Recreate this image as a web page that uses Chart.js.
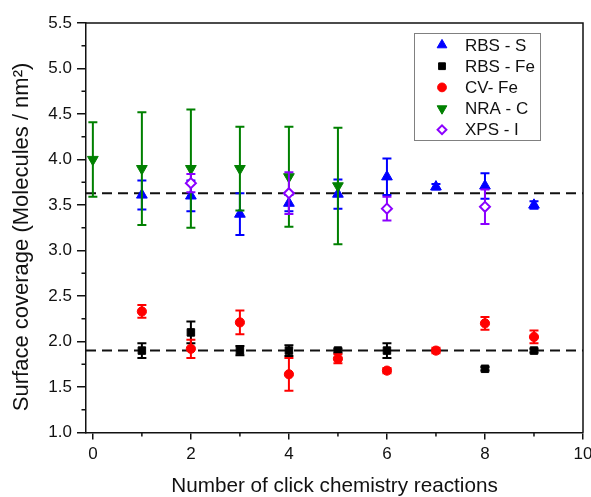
<!DOCTYPE html>
<html>
<head>
<meta charset="utf-8">
<script src="https://cdn.jsdelivr.net/npm/chart.js@4.4.0/dist/chart.umd.min.js"></script>
<style>
  html, body { margin: 0; padding: 0; background: #fff; }
  #wrap { width: 591px; height: 497px; }
</style>
</head>
<body>
<div id="wrap"><canvas id="coverageChart"></canvas></div>
<script>
// surface coverage after repeated click reactions, one series per technique
var rbsS_x = [1, 2, 3, 4, 5, 6, 7, 8, 9];
var rbsS_y = [3.61, 3.60, 3.40, 3.52, 3.62, 3.81, 3.70, 3.71, 3.50];
var rbsS_err = [0.16, 0.17, 0.23, 0.09, 0.16, 0.20, 0.03, 0.14, 0.04];

var rbsFe_x = [1, 2, 3, 4, 5, 6, 8, 9];
var rbsFe_y = [1.90, 2.10, 1.90, 1.90, 1.90, 1.90, 1.70, 1.90];
var rbsFe_err = [0.08, 0.12, 0.05, 0.06, 0.02, 0.08, 0.02, 0.02];

var cvFe_x = [1, 2, 3, 4, 5, 6, 7, 8, 9];
var cvFe_y = [2.33, 1.92, 2.21, 1.64, 1.81, 1.68, 1.90, 2.20, 2.05];
var cvFe_err = [0.07, 0.10, 0.13, 0.18, 0.05, 0.03, 0.03, 0.07, 0.07];

var nraC_x = [0, 1, 2, 3, 4, 5];
var nraC_y = [4.00, 3.90, 3.90, 3.90, 3.81, 3.71];
var nraC_err = [0.41, 0.62, 0.65, 0.46, 0.55, 0.64];

var xpsI_x = [2, 4, 6, 8];
var xpsI_y = [3.74, 3.63, 3.46, 3.48];
var xpsI_err = [0.10, 0.23, 0.13, 0.19];

// mean levels (dashed)
var meanS = 3.63;
var meanFe = 1.90;

var xMin = -0.14, xMax = 10;
var yMin = 1.0, yMax = 5.5;
var xTicks = [0, 2, 4, 6, 8, 10];
var yTicks = [1.0, 1.5, 2.0, 2.5, 3.0, 3.5, 4.0, 4.5, 5.0, 5.5];

var AXIS = '#111';

function pts(xs, ys) {
    return xs.map(function(x, i) { return {x: x, y: ys[i]}; });
}

function series(label, xs, ys, err, color, style, opts) {
    var ds = {
        label: label,
        data: pts(xs, ys),
        err: err,
        pointStyle: style,
        pointRadius: 5,
        pointBackgroundColor: color,
        pointBorderColor: color,
        pointBorderWidth: 1,
        borderColor: color,
        backgroundColor: color,
        showLine: false,
        inLegend: true
    };
    for (var k in opts) ds[k] = opts[k];
    return ds;
}

function meanLine(y) {
    return {
        type: 'line',
        data: [{x: xMin, y: y}, {x: xMax, y: y}],
        showLine: true,
        borderColor: '#111',
        borderWidth: 2,
        borderDash: [10, 6],
        pointRadius: 0,
        fill: false,
        order: 10
    };
}

var datasets = [
    series('RBS - S', rbsS_x, rbsS_y, rbsS_err, '#0000ff', 'triangle', {pointRadius: 6.2, order: 5}),
    series('RBS - Fe', rbsFe_x, rbsFe_y, rbsFe_err, '#000000', 'rect', {pointRadius: 5.3, order: 4}),
    series('CV- Fe', cvFe_x, cvFe_y, cvFe_err, '#ff0000', 'circle', {pointRadius: 4.6, order: 3}),
    series('NRA - C', nraC_x, nraC_y, nraC_err, '#008000', 'triangle', {pointRadius: 6.2, pointRotation: 180, order: 2}),
    series('XPS - I', xpsI_x, xpsI_y, xpsI_err, '#8b00ff', 'rectRot',
        {pointRadius: 5, pointBackgroundColor: '#ffffff', pointBorderWidth: 2, order: 1}),
    meanLine(meanS),
    meanLine(meanFe)
];

// vertical error bars with caps, drawn just under each series' markers
var errorBars = {
    id: 'errorBars',
    beforeDatasetDraw: function(chart, args) {
        var ds = chart.data.datasets[args.index];
        if (!ds.err) return;
        var xs = chart.scales.x, ys = chart.scales.y, ctx = chart.ctx;
        ctx.save();
        ctx.strokeStyle = ds.borderColor;
        ctx.lineWidth = 2;
        ds.data.forEach(function(p, i) {
            var px = xs.getPixelForValue(p.x);
            var top = ys.getPixelForValue(p.y + ds.err[i]);
            var bot = ys.getPixelForValue(p.y - ds.err[i]);
            ctx.beginPath();
            ctx.moveTo(px, top); ctx.lineTo(px, bot);
            ctx.moveTo(px - 4.5, top); ctx.lineTo(px + 4.5, top);
            ctx.moveTo(px - 4.5, bot); ctx.lineTo(px + 4.5, bot);
            ctx.stroke();
        });
        ctx.restore();
    }
};

// closing frame on top/right plus the small minor ticks
var frame = {
    id: 'frame',
    afterDraw: function(chart) {
        var a = chart.chartArea, ctx = chart.ctx;
        var xs = chart.scales.x, ys = chart.scales.y;
        ctx.save();
        ctx.strokeStyle = AXIS;
        ctx.lineWidth = 1.5;
        ctx.beginPath();
        ctx.moveTo(a.left, a.top); ctx.lineTo(a.right, a.top); ctx.lineTo(a.right, a.bottom);
        ctx.stroke();
        ctx.beginPath();
        for (var i = 0; i < yTicks.length - 1; i++) {
            var py = ys.getPixelForValue((yTicks[i] + yTicks[i + 1]) / 2);
            ctx.moveTo(a.left - 4.5, py); ctx.lineTo(a.left, py);
        }
        for (var j = 0; j < xTicks.length - 1; j++) {
            var px = xs.getPixelForValue((xTicks[j] + xTicks[j + 1]) / 2);
            ctx.moveTo(px, a.bottom); ctx.lineTo(px, a.bottom + 4);
        }
        ctx.stroke();
        ctx.restore();
    }
};

// boxed legend in the upper right corner of the plot
var boxLegend = {
    id: 'boxLegend',
    afterDraw: function(chart) {
        var a = chart.chartArea, ctx = chart.ctx;
        var left = a.right - 169, top = a.top + 10, w = 126, h = 107;
        ctx.save();
        ctx.fillStyle = '#fff';
        ctx.fillRect(left, top, w, h);
        ctx.strokeStyle = '#808080';
        ctx.lineWidth = 1;
        ctx.strokeRect(left + 0.5, top + 0.5, w, h);
        ctx.font = '17px "Liberation Sans", Arial, sans-serif';
        ctx.textBaseline = 'middle';
        var row = 0;
        chart.data.datasets.forEach(function(ds) {
            if (!ds.inLegend) return;
            var cy = top + 12 + row * 21.2;
            var mx = left + 28;
            ctx.fillStyle = ds.pointBackgroundColor;
            ctx.strokeStyle = ds.pointBorderColor;
            ctx.lineWidth = ds.pointBorderWidth;
            Chart.helpers.drawPoint(ctx, {
                pointStyle: ds.pointStyle,
                rotation: ds.pointRotation || 0,
                radius: ds.pointStyle === 'triangle' ? 5.6 : (ds.pointStyle === 'rect' ? 4.8 : 4.4),
                borderWidth: ds.pointBorderWidth
            }, mx, cy);
            ctx.fillStyle = '#111';
            ctx.fillText(ds.label, left + 51, cy + 1);
            row++;
        });
        ctx.restore();
    }
};

var tickFont = {family: '"Liberation Sans", Arial, sans-serif', size: 17};
var xTitleFont = {family: '"Liberation Sans", Arial, sans-serif', size: 20.7, lineHeight: 1};
var yTitleFont = {family: '"Liberation Sans", Arial, sans-serif', size: 22, lineHeight: 1};

new Chart(document.getElementById('coverageChart'), {
    type: 'scatter',
    data: {datasets: datasets},
    plugins: [errorBars, frame, boxLegend],
    options: {
        responsive: true,
        maintainAspectRatio: false,
        animation: false,
        layout: {padding: {top: 23, right: 8, left: 0, bottom: 0}},
        plugins: {legend: {display: false}, tooltip: {enabled: false}},
        scales: {
            x: {
                type: 'linear',
                min: xMin,
                max: xMax,
                afterBuildTicks: function(s) { s.ticks = xTicks.map(function(v) { return {value: v}; }); },
                afterFit: function(s) { s.height = 64.5; s.paddingLeft = 0; s.paddingRight = 0; },
                ticks: {font: tickFont, color: AXIS, padding: 5, maxRotation: 0, autoSkip: false},
                grid: {drawOnChartArea: false, tickLength: 7, color: AXIS, lineWidth: 1.5},
                border: {display: true, color: AXIS, width: 1.5},
                title: {display: true, text: 'Number of click chemistry reactions', font: xTitleFont,
                        color: AXIS, padding: {top: 0, bottom: 0}}
            },
            y: {
                type: 'linear',
                min: yMin,
                max: yMax,
                afterBuildTicks: function(s) { s.ticks = yTicks.map(function(v) { return {value: v}; }); },
                afterFit: function(s) { s.width = 86; },
                ticks: {font: tickFont, color: AXIS, padding: 5, autoSkip: false,
                        callback: function(v) { return v.toFixed(1); }},
                grid: {drawOnChartArea: false, tickLength: 9, color: AXIS, lineWidth: 1.5},
                border: {display: true, color: AXIS, width: 1.5},
                // trailing spaces nudge the rotated label a little below the axis centre
                title: {display: true, text: 'Surface coverage (Molecules / nm²)   ', font: yTitleFont,
                        color: AXIS, padding: {top: 10.5, bottom: 0}}
            }
        }
    }
});
</script>
</body>
</html>
